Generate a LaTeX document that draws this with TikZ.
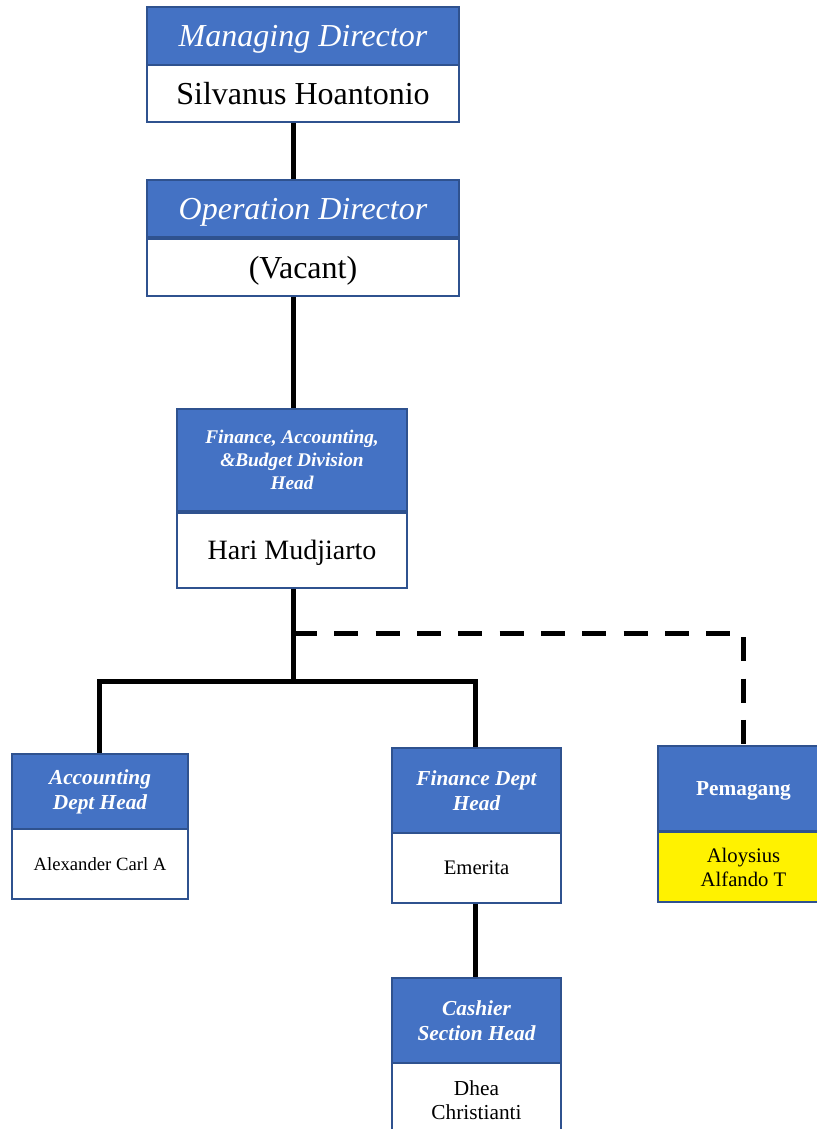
\documentclass[tikz,border=0pt]{standalone}
\usepackage{fontspec}
\setmainfont{Liberation Serif}
\usetikzlibrary{calc}
\definecolor{boxblue}{HTML}{4472C4}
\definecolor{boxline}{HTML}{2F528F}
\def\px{0.75pt}
\begin{document}
\begin{tikzpicture}[x=0.75pt, y=-0.75pt,
    card/.style={draw=boxline, line width=1.5pt, inner sep=0pt, align=center},
    headcard/.style={card, fill=boxblue, text=white},
    namecard/.style={card, fill=white, text=black},
    oneline/.style={text height=#1*0.89pt, text depth=#1*0.22pt},
    link/.style={black, line width=3.75pt},
    dotlink/.style={link, dash pattern=on 18pt off 13pt}]
        \clip (0,0) rectangle (817,1129);
        \useasboundingbox (0,0) rectangle (817,1129);

        % top of the chart
        \node[headcard, oneline=24, minimum width=312*\px, minimum height=58*\px, font=\fontsize{24}{28}\selectfont\itshape] (mdtitle) at (303,36) {Managing Director};
        \node[namecard, oneline=24, minimum width=312*\px, minimum height=57*\px, font=\fontsize{24}{28}\selectfont] (mdname) at (303,93.5) {Silvanus Hoantonio};
        \node[headcard, oneline=24, minimum width=312*\px, minimum height=57*\px, font=\fontsize{24}{28}\selectfont\itshape] (odtitle) at (303,208.5) {Operation Director};
        \node[namecard, oneline=24, minimum width=312*\px, minimum height=57*\px, font=\fontsize{24}{28}\selectfont] (odname) at (303,267.5) {(Vacant)};

        % division
        \node[headcard, minimum width=230*\px, minimum height=102*\px, font=\fontsize{14.5}{17}\selectfont\bfseries\itshape] (divtitle) at (292,460) {Finance, Accounting,\\\&Budget Division\\Head};
        \node[namecard, oneline=21, minimum width=230*\px, minimum height=75*\px, font=\fontsize{21}{25}\selectfont] (divname) at (292,550.5) {Hari Mudjiarto};

        % departments
        \node[headcard, minimum width=176*\px, minimum height=75*\px, font=\fontsize{16}{18.75}\selectfont\bfseries\itshape] (acctitle) at (100,791.5) {Accounting\\Dept Head};
        \node[namecard, oneline=14, minimum width=176*\px, minimum height=70*\px, font=\fontsize{14}{17}\selectfont] (accname) at (100,864) {Alexander Carl A};
        \node[headcard, minimum width=169*\px, minimum height=85*\px, font=\fontsize{16}{18.75}\selectfont\bfseries\itshape] (fintitle) at (476.5,790.5) {Finance Dept\\Head};
        \node[namecard, oneline=15.5, minimum width=169*\px, minimum height=70*\px, font=\fontsize{15.5}{18}\selectfont] (finname) at (476.5,868) {Emerita};
        \node[headcard, oneline=16, minimum width=171*\px, minimum height=85*\px, font=\fontsize{16}{18.75}\selectfont\bfseries] (pemtitle) at (743.5,788.5) {Pemagang};
        \node[namecard, fill=yellow, minimum width=171*\px, minimum height=70*\px, font=\fontsize{15.5}{18}\selectfont] (pemname) at (743.5,867) {Aloysius\\Alfando T};

        % section
        \node[headcard, minimum width=169*\px, minimum height=85*\px, font=\fontsize{16}{18.75}\selectfont\bfseries\itshape] (castitle) at (476.5,1020.5) {Cashier\\Section Head};
        \node[namecard, minimum width=169*\px, minimum height=74*\px, font=\fontsize{16}{18}\selectfont] (casname) at (476.5,1100) {Dhea\\Christianti};

        % connectors
        \coordinate (tap) at ($(divname.south)+(1,44)$);
        \coordinate (split) at ($(divname.south)+(1,92)$);
        \draw[link] (mdname.south -| tap) -- (odtitle.north -| tap);
        \draw[link] (odname.south -| tap) -- (divtitle.north -| tap);
        \draw[link] (divname.south -| tap) -- (split);
        \draw[link] ($(acctitle.north)+(-1,0)$) |- (split) -| ($(fintitle.north)+(-1.5,0)$);
        \draw[dotlink] (tap) -| (pemtitle.north);
        \draw[link] ($(finname.south)+(-1.5,0)$) -- ($(castitle.north)+(-1.5,0)$);
\end{tikzpicture}
\end{document}
